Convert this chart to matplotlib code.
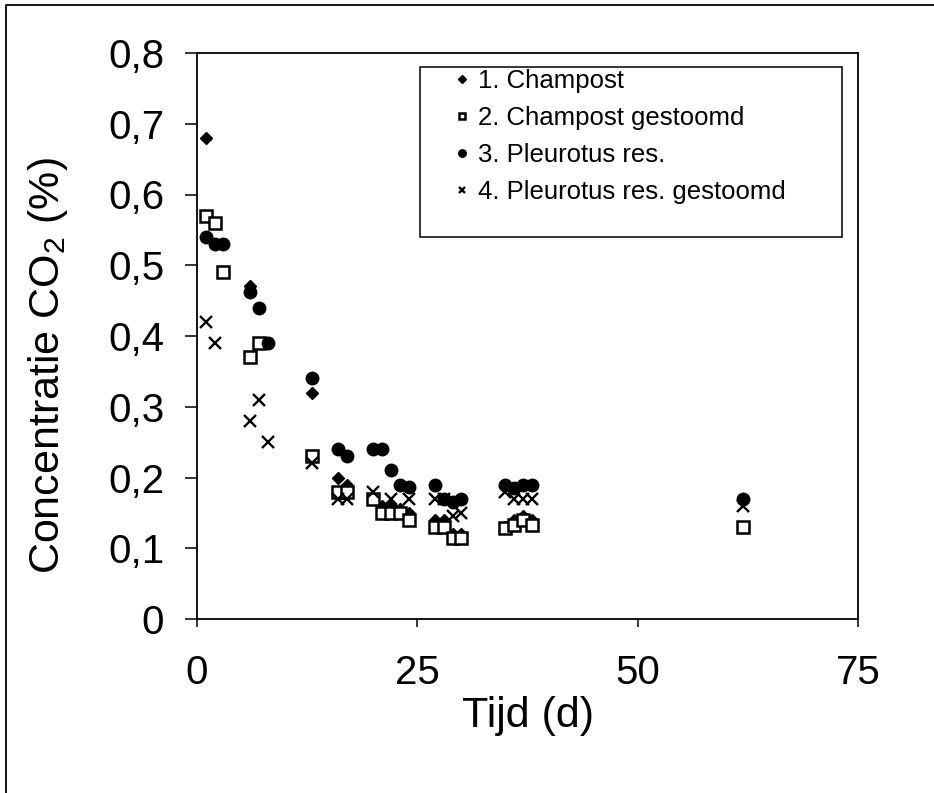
import matplotlib
matplotlib.use("Agg")
import matplotlib.pyplot as plt
from matplotlib.lines import Line2D
from matplotlib.patches import Rectangle

plt.rcParams["font.family"] = ["Liberation Sans", "DejaVu Sans"]
plt.rcParams["mathtext.fontset"] = "custom"
plt.rcParams["mathtext.rm"] = "Liberation Sans"
plt.rcParams["mathtext.it"] = "Liberation Sans:italic"

# 1. Champost
champ_x = [1, 6, 7, 8, 13, 16, 17, 20, 21, 22, 23, 24, 27, 28, 29, 30, 35, 36, 37, 38, 62]
champ_y = [0.68, 0.47, 0.44, 0.39, 0.32, 0.20, 0.19, 0.17, 0.16, 0.16, 0.155, 0.15,
           0.14, 0.14, 0.12, 0.12, 0.13, 0.14, 0.145, 0.14, 0.17]

# 2. Champost gestoomd
champ_st_x = [1, 2, 3, 6, 7, 13, 16, 17, 20, 21, 22, 23, 24, 27, 28, 29, 30, 35, 36, 37, 38, 62]
champ_st_y = [0.57, 0.56, 0.49, 0.37, 0.39, 0.23, 0.18, 0.18, 0.17, 0.15, 0.15, 0.15, 0.14,
              0.13, 0.13, 0.115, 0.115, 0.128, 0.133, 0.14, 0.133, 0.13]

# 3. Pleurotus res.
pleu_x = [1, 2, 3, 6, 7, 8, 13, 16, 17, 20, 21, 22, 23, 24, 27, 28, 29, 30, 35, 36, 37, 38, 62]
pleu_y = [0.54, 0.53, 0.53, 0.462, 0.44, 0.39, 0.34, 0.24, 0.23, 0.24, 0.24, 0.21, 0.19, 0.187,
          0.19, 0.17, 0.165, 0.17, 0.19, 0.185, 0.19, 0.19, 0.17]

# 4. Pleurotus res. gestoomd
pleu_st_x = [1, 2, 6, 7, 8, 13, 16, 17, 20, 22, 24, 27, 28, 29, 30, 35, 36, 37, 38, 62]
pleu_st_y = [0.42, 0.39, 0.28, 0.31, 0.25, 0.22, 0.17, 0.17, 0.18, 0.17, 0.17, 0.17, 0.17,
             0.145, 0.15, 0.18, 0.17, 0.17, 0.17, 0.16]

labels = ["1. Champost", "2. Champost gestoomd", "3. Pleurotus res.", "4. Pleurotus res. gestoomd"]
x_ticks = [0, 25, 50, 75]
y_ticks = [0, 0.1, 0.2, 0.3, 0.4, 0.5, 0.6, 0.7, 0.8]
y_tick_labels = ["0", "0,1", "0,2", "0,3", "0,4", "0,5", "0,6", "0,7", "0,8"]

W, H = 934, 793
fig = plt.figure(figsize=(W / 100, H / 100), dpi=100)


def fx(px):
    return px / W


def fy(py):
    return 1 - py / H


ax = fig.add_axes([fx(197), fy(619), fx(858) - fx(197), fy(53) - fy(619)])

ax.plot(champ_x, champ_y, linestyle="none", marker="D", ms=6.5, color="black", label=labels[0])
ax.plot(champ_st_x, champ_st_y, linestyle="none", marker="s", ms=8, mfc="white", mec="black",
        mew=1.8, label=labels[1])
ax.plot(pleu_x, pleu_y, linestyle="none", marker="o", ms=9, color="black", label=labels[2])
ax.plot(pleu_st_x, pleu_st_y, linestyle="none", marker="x", ms=8, mew=1.7, color="black",
        label=labels[3])

ax.set_xlim(0, 75)
ax.set_ylim(0, 0.8)
ax.set_xticks(x_ticks)
ax.set_yticks(y_ticks)
ax.set_yticklabels(y_tick_labels)
ax.tick_params(axis="x", direction="out", length=6, width=1.1, labelsize=29, pad=19)
ax.tick_params(axis="y", direction="out", length=8.5, width=1.1, labelsize=29, pad=15)
for s in ax.spines.values():
    s.set_linewidth(1.3)

fig.text(fx(48), fy(366), "Concentratie CO$_2$ (%)", rotation=90, ha="center", va="center",
         fontsize=31)
fig.text(fx(528), fy(716), "Tijd (d)", ha="center", va="center", fontsize=31)

leg = ax.legend(loc="upper left", bbox_to_anchor=(fx(452), fy(69)),
                bbox_transform=fig.transFigure, frameon=False, fontsize=18.5,
                borderpad=0, borderaxespad=0, handlelength=0.8, handletextpad=0.2,
                labelspacing=0.5, markerscale=0.6)

fig.patches.append(Rectangle((fx(420), fy(237)), fx(842) - fx(420), fy(67) - fy(237),
                             transform=fig.transFigure, fill=False, edgecolor="black",
                             linewidth=1.1))

# outer frame (left and top edges visible)
fig.lines.append(Line2D([fx(6), fx(6), 1], [0, fy(5), fy(5)], transform=fig.transFigure,
                        color="black", linewidth=1.3))

fig.savefig("out.png", dpi=100)
